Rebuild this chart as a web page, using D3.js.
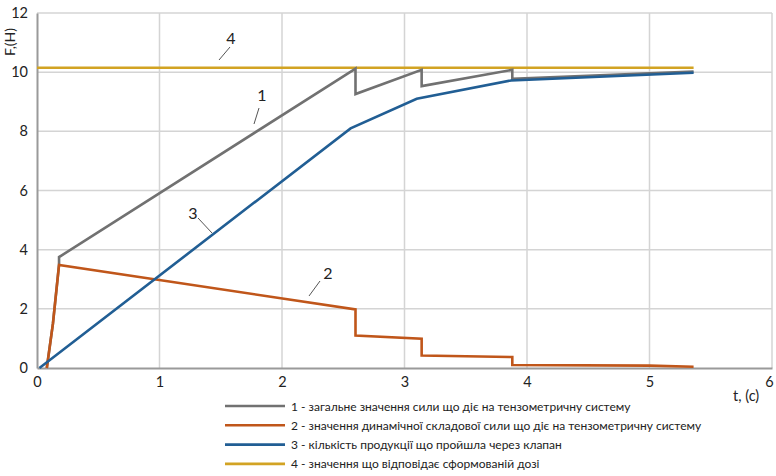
<!DOCTYPE html>
<html><head><meta charset="utf-8">
<script src="https://cdn.jsdelivr.net/npm/d3@7"></script>
<style>
body{margin:0;background:#fff;}
svg text{font-family:Lato,"Open Sans",sans-serif;fill:#222;}
</style></head>
<body><svg id="c" width="776" height="476"></svg>
<script>
// Time axis ticks and force axis ticks
const xTicks = [0, 1, 2, 3, 4, 5, 6];
const yTicks = [0, 2, 4, 6, 8, 10, 12];

// 1 - total force on the strain-gauge system: [t, F]
const totalForce = [[0.08,0],[0.13,1.5],[0.18,3.5],[0.18,3.75],[2.6,10.12],[2.6,9.26],[3.14,10.08],[3.14,9.53],[3.88,10.08],[3.88,9.78],[5.36,10.02]];
// 2 - dynamic component of the force
const dynamicForce = [[0.08,0],[0.13,1.5],[0.18,3.48],[2.6,1.98],[2.6,1.1],[3.14,0.99],[3.14,0.42],[3.88,0.37],[3.88,0.1],[5.0,0.08],[5.36,0.04]];
// 3 - product passed through the valve
const passedProduct = [[0.02,0],[2.56,8.1],[3.1,9.1],[3.87,9.72],[5.36,9.98]];
// 4 - value corresponding to the formed dose
const doseValue = [[0,10.15],[5.36,10.15]];

const seriesNames = [
  "1 - загальне значення сили що діє на тензометричну систему",
  "2 - значення динамічної складової сили що діє на тензометричну систему",
  "3 - кількість продукції що пройшла через клапан",
  "4 - значення що відповідає сформованій дозі"
];
const seriesColors = ["#717171", "#C0561A", "#215E94", "#D2A323"];
const seriesData = [totalForce, dynamicForce, passedProduct, doseValue];

const svg = d3.select("#c");
const x = d3.scaleLinear().domain([0, 6]).range([37, 772]);
const y = d3.scaleLinear().domain([0, 12]).range([368, 13]);

// grid
svg.append("g").selectAll("line").data(yTicks.filter(d => d > 0)).join("line")
  .attr("x1", x(0)).attr("x2", x(6)).attr("y1", d => y(d)).attr("y2", d => y(d))
  .attr("stroke", "#d4d4d4").attr("stroke-width", 1.5);
svg.append("g").selectAll("line").data(xTicks.filter(d => d > 0)).join("line")
  .attr("y1", y(0)).attr("y2", y(12)).attr("x1", d => x(d)).attr("x2", d => x(d))
  .attr("stroke", "#d4d4d4").attr("stroke-width", 1.5);

// axes
const xAxis = svg.append("g").attr("transform", `translate(0,${y(0)})`)
  .call(d3.axisBottom(x).tickValues(xTicks).tickFormat(d3.format("d")).tickSize(0).tickPadding(9));
const yAxis = svg.append("g").attr("transform", `translate(${x(0)},0)`)
  .call(d3.axisLeft(y).tickValues(yTicks).tickFormat(d3.format("d")).tickSize(0).tickPadding(9));
[xAxis, yAxis].forEach(a => {
  a.select(".domain").attr("stroke", "#9a9a9a").attr("stroke-width", 2);
  a.selectAll("text").attr("font-size", 14.5).attr("font-family", "Lato, sans-serif").attr("fill", "#222");
});
// last time tick sits against the right edge
xAxis.selectAll(".tick").filter(d => d === 6).select("text").attr("dx", -3);

// axis titles
svg.append("text").attr("transform", "translate(15,42) rotate(-90)")
  .attr("text-anchor", "middle").attr("font-size", 14).text("F,(Н)");
svg.append("text").attr("x", 733).attr("y", 401).attr("font-size", 14.5).text("t, (c)");

// series lines
const line = d3.line().x(d => x(d[0])).y(d => y(d[1]));
const order = [3, 0, 1, 2];
order.forEach(i => {
  svg.append("path").datum(seriesData[i]).attr("d", line)
    .attr("fill", "none").attr("stroke", seriesColors[i])
    .attr("stroke-width", 2.6).attr("stroke-linejoin", "miter");
});

// callout numbers with leader lines
const callouts = [
  {t:"1", tx:262, ty:101, l:[259,108,254,124]},
  {t:"2", tx:328, ty:279, l:[320,281,309,296]},
  {t:"3", tx:193, ty:219, l:[198,218,212,233]},
  {t:"4", tx:231, ty:44, l:[230,47,219,60]}
];
callouts.forEach(c => {
  svg.append("text").attr("x", c.tx).attr("y", c.ty).attr("text-anchor", "middle")
    .attr("font-size", 16).attr("font-family", "Liberation Sans, Arial, sans-serif").text(c.t);
  svg.append("line").attr("x1", c.l[0]).attr("y1", c.l[1]).attr("x2", c.l[2]).attr("y2", c.l[3])
    .attr("stroke", "#555").attr("stroke-width", 1);
});

// legend
const lg = svg.append("g");
seriesNames.forEach((n, i) => {
  const yy = 406 + i * 19.3;
  lg.append("line").attr("x1", 225).attr("x2", 285).attr("y1", yy).attr("y2", yy)
    .attr("stroke", seriesColors[i]).attr("stroke-width", 2.6);
  lg.append("text").attr("x", 291).attr("y", yy + 4.5).attr("font-size", 12).text(n);
});
</script></body></html>
